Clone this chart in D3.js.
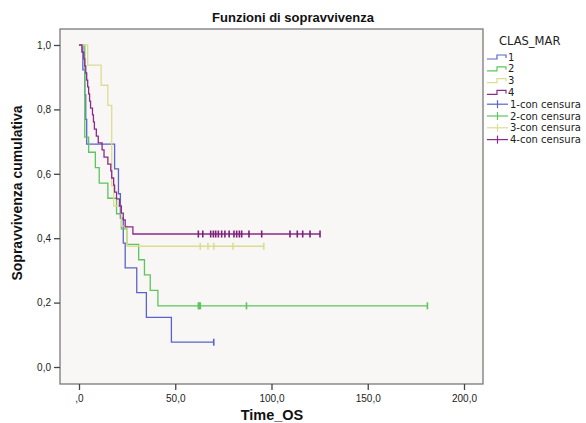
<!DOCTYPE html>
<html><head><meta charset="utf-8">
<script src="https://cdn.jsdelivr.net/npm/d3@7"></script>
<style>
html,body{margin:0;padding:0;background:#fff;}
svg{display:block;font-family:"Liberation Sans",Arial,sans-serif;}
</style></head>
<body>
<svg id="chart" width="586" height="423"></svg>
<script>
// ---- data ----
const groups = ["1","2","3","4"];
const colors = ["#5a64c8","#5cc65c","#dcdc92","#8c2a8c"];
const xTicks = [0,50,100,150,200];
const xTickLabels = [",0","50,0","100,0","150,0","200,0"];
const yTicks = [0,0.2,0.4,0.6,0.8,1.0];
const yTickLabels = ["0,0","0,2","0,4","0,6","0,8","1,0"];

const t1 = [0,2,3,3.5,4,18.5,20.5,21.5,23,24,30,35,48];
const s1 = [1,0.923,0.846,0.769,0.692,0.615,0.538,0.462,0.385,0.308,0.231,0.154,0.077];
const c1 = [70];
const end1 = 70;

const t2 = [0,3,5,8.5,10.5,15,19.5,22,25,31,34,37,41];
const s2 = [1,0.714,0.667,0.619,0.571,0.524,0.476,0.429,0.381,0.333,0.286,0.238,0.190];
const c2 = [62,62.5,63,87,181];
const end2 = 181;

const t3 = [0,4.5,11.5,15,17,18,22,25];
const s3 = [1,0.9375,0.875,0.8125,0.5625,0.5,0.4375,0.375];
const c3 = [63,67,70,80,96];
const end3 = 96;

const t4 = [0,1.5,2.5,3,3.5,4,4.5,5,5.5,6,7,7.5,8,9,10,12,13,15,16.5,17,18,18.5,19.5,21,22,23,24,28];
const s4 = [1,0.978,0.957,0.935,0.913,0.891,0.870,0.848,0.826,0.804,0.783,0.761,0.739,0.717,0.696,0.674,0.652,0.630,0.609,0.587,0.565,0.543,0.522,0.500,0.478,0.457,0.435,0.413];
const c4 = [62,64.3,68.4,69.8,71,72.4,74.1,75.8,78,80.5,81.9,83.3,84.5,88.3,94.9,109.6,113.4,116.2,120,125.2];
const end4 = 125.2;

const series = [
  {t:t1,s:s1,c:c1,end:end1},
  {t:t2,s:s2,c:c2,end:end2},
  {t:t3,s:s3,c:c3,end:end3},
  {t:t4,s:s4,c:c4,end:end4}
];

// ---- layout ----
const box = {left:60, right:483, top:29, bottom:384};
const x = d3.scaleLinear().domain([0,200]).range([79,464]);
const y = d3.scaleLinear().domain([0,1]).range([367,45]);

const svg = d3.select("#chart");

svg.append("rect").attr("x",box.left).attr("y",box.top)
  .attr("width",box.right-box.left).attr("height",box.bottom-box.top)
  .attr("fill","#f8f7f5").attr("stroke","#7a7a7a").attr("stroke-width",1.3);

// title
svg.append("text").attr("x",293).attr("y",22).attr("text-anchor","middle")
  .attr("font-size",13).attr("font-weight","bold").attr("fill","#111")
  .text("Funzioni di sopravvivenza");

// y axis
const yAxis = d3.axisLeft(y).tickValues(yTicks).tickSize(6).tickPadding(3)
  .tickFormat((d,i)=>yTickLabels[i]);
const gy = svg.append("g").attr("transform",`translate(${box.left},0)`).call(yAxis);
gy.select(".domain").remove();
gy.selectAll(".tick line").attr("stroke","#444").attr("stroke-width",1.3);
gy.selectAll(".tick text").attr("font-size",10).attr("fill","#222")
  .attr("font-family","'Liberation Sans',Arial,sans-serif");

// x axis
const xAxis = d3.axisBottom(x).tickValues(xTicks).tickSize(6).tickPadding(5)
  .tickFormat((d,i)=>xTickLabels[i]);
const gx = svg.append("g").attr("transform",`translate(0,${box.bottom})`).call(xAxis);
gx.select(".domain").remove();
gx.selectAll(".tick line").attr("stroke","#444").attr("stroke-width",1.3);
gx.selectAll(".tick text").attr("font-size",10).attr("fill","#222")
  .attr("font-family","'Liberation Sans',Arial,sans-serif");

// axis titles
svg.append("text").attr("x",272).attr("y",420).attr("text-anchor","middle")
  .attr("font-size",14.5).attr("font-weight","bold").attr("fill","#111").text("Time_OS");
svg.append("text").attr("transform",`translate(22,193) rotate(-90)`)
  .attr("text-anchor","middle").attr("font-size",14).attr("font-weight","bold")
  .attr("fill","#111").text("Sopravvivenza cumulativa");

// curves
const line = d3.line().x(d=>x(d[0])).y(d=>y(d[1])).curve(d3.curveStepAfter);
function levelAt(sr, tt){
  let v = sr.s[0];
  for(let i=0;i<sr.t.length;i++){ if(sr.t[i] <= tt) v = sr.s[i]; }
  return v;
}
series.forEach((sr,gi)=>{
  const pts = sr.t.map((tt,i)=>[tt,sr.s[i]]);
  pts.push([sr.end, sr.s[sr.s.length-1]]);
  svg.append("path").datum(pts).attr("d",line).attr("fill","none")
    .attr("stroke",colors[gi]).attr("stroke-width",1.3);
});
series.forEach((sr,gi)=>{
  svg.append("g").selectAll("line").data(sr.c).join("line")
    .attr("x1",d=>x(d)).attr("x2",d=>x(d))
    .attr("y1",d=>y(levelAt(sr,d))-3.5).attr("y2",d=>y(levelAt(sr,d))+3.5)
    .attr("stroke",gi===3?"#7a1f7a":colors[gi]).attr("stroke-width",1.6);
});

// legend
const lg = svg.append("g").attr("font-family","'DejaVu Sans',Verdana,sans-serif");
lg.append("text").attr("x",499).attr("y",45).attr("font-size",11.5).attr("fill","#222").text("CLAS_MAR");
const rowY = i => 57 + i*11.8;
groups.forEach((g,i)=>{
  const yy = rowY(i);
  lg.append("path").attr("d",`M487,${yy+2}H497V${yy-2}H506V${yy+1}`)
    .attr("fill","none").attr("stroke",colors[i]).attr("stroke-width",1.2);
  lg.append("text").attr("x",508).attr("y",yy+3.5).attr("font-size",10).attr("fill","#222").text(g);
});
groups.forEach((g,i)=>{
  const yy = rowY(i+4);
  lg.append("line").attr("x1",487).attr("x2",508).attr("y1",yy).attr("y2",yy)
    .attr("stroke",colors[i]).attr("stroke-width",1.2);
  lg.append("line").attr("x1",497.5).attr("x2",497.5).attr("y1",yy-4).attr("y2",yy+4)
    .attr("stroke",colors[i]).attr("stroke-width",1.2);
  lg.append("text").attr("x",510).attr("y",yy+3.5).attr("font-size",10).attr("fill","#222").text(g+"-con censura");
});
</script>
</body></html>
